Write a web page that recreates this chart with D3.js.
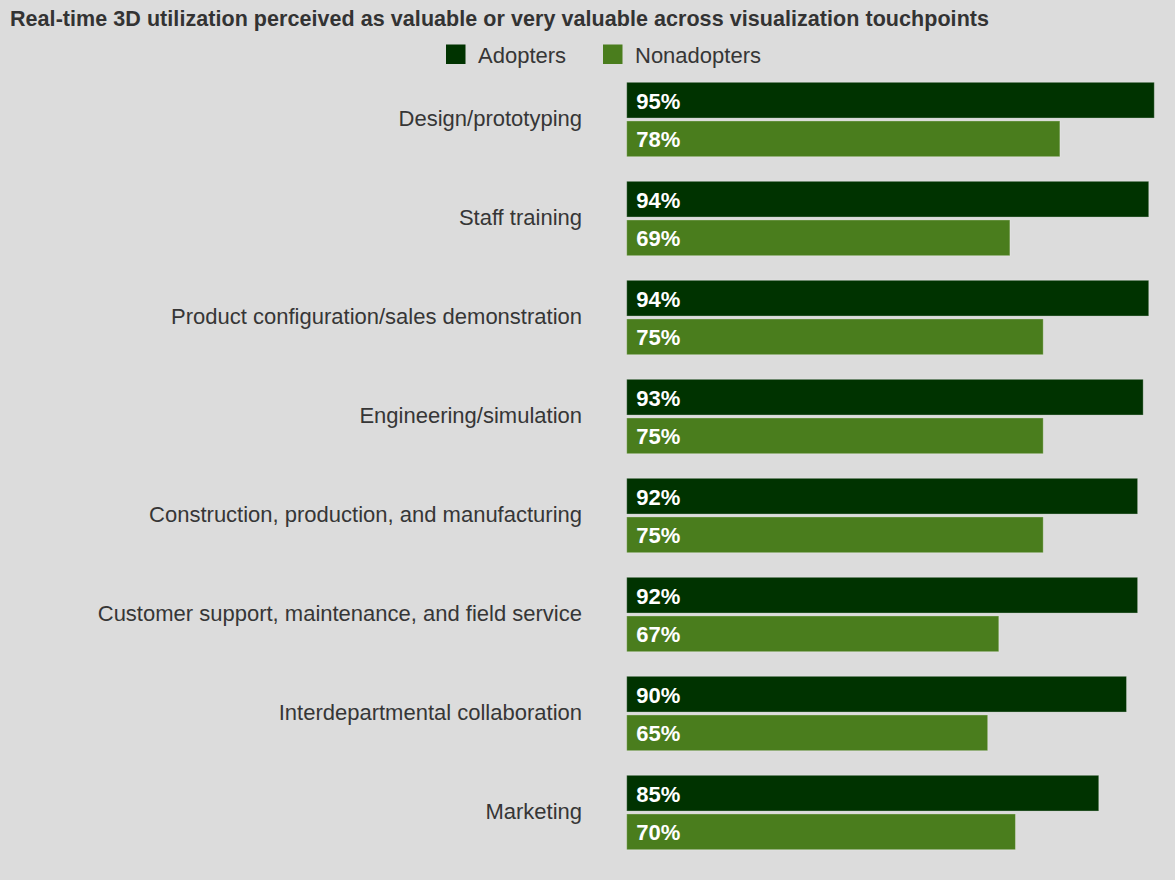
<!DOCTYPE html>
<html>
<head>
<meta charset="utf-8">
<script src="https://cdn.jsdelivr.net/npm/d3@7"></script>
<style>
  html, body { margin: 0; padding: 0; background: #dcdcdc; }
  svg { display: block; }
  text { font-family: "Liberation Sans", Arial, sans-serif; }
</style>
</head>
<body>
<script>
const categories = [
  "Design/prototyping",
  "Staff training",
  "Product configuration/sales demonstration",
  "Engineering/simulation",
  "Construction, production, and manufacturing",
  "Customer support, maintenance, and field service",
  "Interdepartmental collaboration",
  "Marketing"
];
const seriesNames = ["Adopters", "Nonadopters"];
const adopters = [95, 94, 94, 93, 92, 92, 90, 85];
const nonadopters = [78, 69, 75, 75, 75, 67, 65, 70];
const colors = ["#003300", "#4a7d1d"];

const W = 1175, H = 880;
const svg = d3.select("body").append("svg").attr("width", W).attr("height", H);
svg.append("rect").attr("width", W).attr("height", H).attr("fill", "#dcdcdc");

svg.append("text")
  .attr("x", 10).attr("y", 26)
  .attr("font-size", 21.5).attr("font-weight", "bold").attr("fill", "#333")
  .attr("textLength", 979).attr("lengthAdjust", "spacing")
  .text("Real-time 3D utilization perceived as valuable or very valuable across visualization touchpoints");

// legend
const legend = svg.append("g");
const legendX = [446, 603];
seriesNames.forEach((name, i) => {
  legend.append("rect").attr("x", legendX[i]).attr("y", 44.5).attr("width", 19.5).attr("height", 19.5).attr("fill", colors[i]);
  legend.append("text").attr("x", legendX[i] + 32).attr("y", 62.5)
    .attr("font-size", 22).attr("fill", "#363636").text(name);
});

const x = d3.scaleLinear().domain([0, 95]).range([626.7, 1154.3]);
const y = d3.scaleBand().domain(categories).range([82.3, 82.3 + 99 * 8]);
const inner = d3.scaleBand().domain(seriesNames).range([0, 74.4]).paddingInner(0.075);

const rows = categories.map((c, i) => ({ cat: c, vals: [adopters[i], nonadopters[i]] }));

const row = svg.append("g").selectAll("g.row").data(rows).join("g").attr("class", "row")
  .attr("transform", d => `translate(0,${y(d.cat)})`);

row.append("text")
  .attr("x", 582).attr("y", 44)
  .attr("text-anchor", "end").attr("font-size", 22).attr("fill", "#363636")
  .text(d => d.cat);

const cells = d => d.vals.map((v, i) => ({ v, s: seriesNames[i], i }));

row.selectAll("rect.bar").data(cells)
  .join("rect").attr("class", "bar")
  .attr("x", x(0)).attr("y", d => inner(d.s))
  .attr("width", d => x(d.v) - x(0)).attr("height", inner.bandwidth())
  .attr("fill", d => colors[d.i])
  .attr("stroke", "rgba(255,255,255,0.3)").attr("stroke-width", 1);

row.selectAll("text.val").data(cells)
  .join("text").attr("class", "val")
  .attr("x", x(0) + 9.5).attr("y", d => inner(d.s) + 26.5)
  .attr("font-size", 22).attr("font-weight", "bold").attr("fill", "#fff")
  .text(d => d.v + "%");
</script>
</body>
</html>
